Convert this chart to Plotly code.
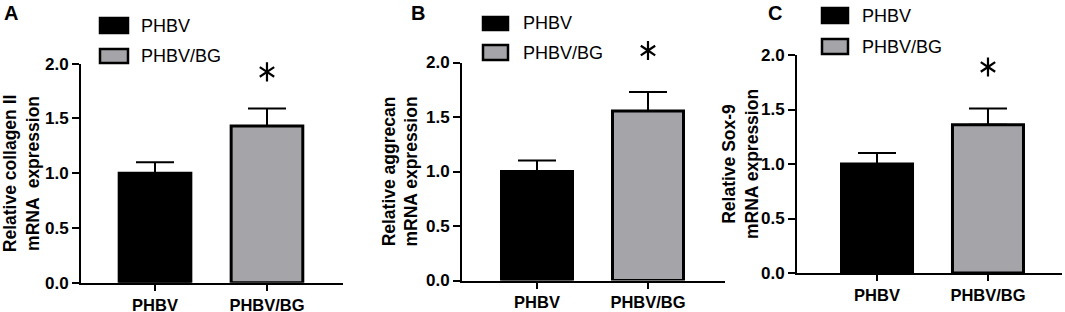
import plotly.graph_objects as go

W, H = 1065, 312

categories = ["PHBV", "PHBV/BG"]
panel_letters = ["A", "B", "C"]
y_titles = ["Relative collagen II<br>mRNA  expression",
            "Relative aggrecan<br>mRNA expression",
            "Relative Sox-9<br>mRNA expression"]
means_a = [1.00, 1.43]
means_b = [1.00, 1.555]
means_c = [1.00, 1.36]
err_a = [0.10, 0.16]
err_b = [0.10, 0.175]
err_c = [0.10, 0.15]
star_y = [1.925, 2.11, 1.89]
y_ticks = [0.0, 0.5, 1.0, 1.5, 2.0]

BLACK = "#000000"
GRAY = "#a5a5a9"
FONT = "Liberation Sans, Arial, sans-serif"
STAR_TOP = 2.4  # top of the hidden axis that carries the significance stars

# pixel layout of each panel
panels = [
    dict(px=(81, 343), py=(63.7, 282.7), xr=(-0.661, 1.679), title_x=21,
         letter_x=2, leg_x=100, leg_w=28, leg_y=[(18, 33), (49, 63)], leg_tx=139),
    dict(px=(462, 725), py=(62.5, 280.5), xr=(-0.676, 1.694), title_x=400,
         letter_x=409, leg_x=483, leg_w=25, leg_y=[(17, 30), (45, 60)], leg_tx=521),
    dict(px=(797, 1062), py=(55, 273), xr=(-0.721, 1.667), title_x=740,
         letter_x=766, leg_x=822, leg_w=26, leg_y=[(8, 23), (39, 54)], leg_tx=860),
]
means = [means_a, means_b, means_c]
errs = [err_a, err_b, err_c]


def fx(p):
    return p / W


def fy(p):
    return 1 - p / H


fig = go.Figure()
layout = dict(template="none", width=W, height=H, margin=dict(l=0, r=0, t=0, b=0, pad=0),
              autosize=False, paper_bgcolor="white", plot_bgcolor="rgba(0,0,0,0)",
              showlegend=False, font=dict(family=FONT, color="black"))
annotations = []
shapes = []

for i, p in enumerate(panels):
    n = "" if i == 0 else str(i + 1)
    ns = str(i + 4)
    xa, ya, ys = "x" + n, "y" + n, "y" + ns
    fig.add_trace(go.Bar(
        x=categories, y=means[i], xaxis=xa, yaxis=ya, width=0.64,
        marker=dict(color=[BLACK, GRAY], line=dict(color=BLACK, width=3)),
        error_y=dict(type="data", array=errs[i], arrayminus=[0, 0], symmetric=False,
                     color=BLACK, thickness=2, width=19),
    ))
    fig.add_trace(go.Scatter(
        x=[categories[1], categories[1]], y=[star_y[i], star_y[i]], xaxis=xa, yaxis=ys,
        mode="markers", cliponaxis=False,
        marker=dict(symbol=["y-up-open", "y-down-open"], size=12, color=BLACK,
                    line=dict(color=BLACK, width=2.2)),
    ))
    ybot, ytop = p["py"][1], p["py"][0]
    scale = (ybot - ytop) / 2.0
    layout["xaxis" + n] = dict(
        domain=[fx(p["px"][0]), fx(p["px"][1])], anchor=ya, range=list(p["xr"]),
        type="category", categoryorder="array", categoryarray=categories,
        showline=True, linecolor=BLACK, linewidth=2, ticks="outside", ticklen=6,
        tickwidth=2, tickcolor=BLACK, showgrid=False, zeroline=False, automargin=False,
        tickfont=dict(family=FONT, size=16.5, weight="bold", color=BLACK),
    )
    layout["yaxis" + n] = dict(
        domain=[fy(ybot), fy(ytop)], anchor=xa, range=[0, 2],
        tickvals=y_ticks, tickformat=".1f",
        showline=True, linecolor=BLACK, linewidth=2, ticks="outside", ticklen=7,
        tickwidth=2, tickcolor=BLACK, showgrid=False, zeroline=False, automargin=False,
        tickfont=dict(family=FONT, size=17, weight="bold", color=BLACK),
    )
    layout["yaxis" + ns] = dict(
        domain=[fy(ybot), fy(ybot - STAR_TOP * scale)], anchor=xa, range=[0, STAR_TOP],
        visible=False, showgrid=False, zeroline=False, automargin=False,
    )
    # y-axis title
    annotations.append(dict(
        text=y_titles[i], textangle=-90, xref="paper", yref="paper",
        x=fx(p["title_x"]), y=fy((ytop + ybot) / 2),
        xanchor="center", yanchor="middle", showarrow=False, align="center",
        font=dict(family=FONT, size=17.5, weight="bold", color=BLACK)))
    # panel letter
    annotations.append(dict(
        text=panel_letters[i], xref="paper", yref="paper",
        x=fx(p["letter_x"]), y=1.0, xanchor="left", yanchor="top",
        showarrow=False, font=dict(family=FONT, size=20, weight="bold", color=BLACK)))
    # legend
    for k, (cat, col) in enumerate(zip(categories, [BLACK, GRAY])):
        y0, y1 = p["leg_y"][k]
        shapes.append(dict(type="rect", xref="paper", yref="paper",
                           x0=fx(p["leg_x"]), x1=fx(p["leg_x"] + p["leg_w"]),
                           y0=fy(y1), y1=fy(y0), fillcolor=col,
                           line=dict(color=BLACK, width=2.5)))
        annotations.append(dict(
            text=cat, xref="paper", yref="paper", x=fx(p["leg_tx"]),
            y=fy((y0 + y1) / 2), xanchor="left", yanchor="middle", showarrow=False,
            font=dict(family=FONT, size=18, color=BLACK)))

layout["annotations"] = annotations
layout["shapes"] = shapes
fig.update_layout(**layout)
fig.write_html("out.html", config={"displayModeBar": False},
               post_script="document.body.style.margin='0';document.body.style.overflow='hidden';")
